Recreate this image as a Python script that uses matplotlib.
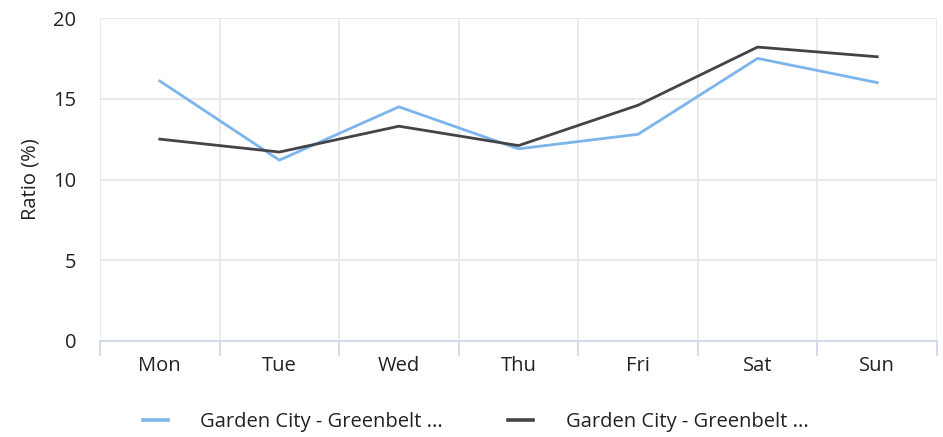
import matplotlib
matplotlib.use("Agg")
import matplotlib.pyplot as plt
from matplotlib.lines import Line2D

categories = ["Mon", "Tue", "Wed", "Thu", "Fri", "Sat", "Sun"]
series_a = [16.1, 11.2, 14.5, 11.9, 12.8, 17.5, 16.0]
series_b = [12.5, 11.7, 13.3, 12.1, 14.6, 18.2, 17.6]
series_names = ["Garden City - Greenbelt ...", "Garden City - Greenbelt ..."]
y_ticks = [0, 5, 10, 15, 20]
colors = ["#7cb5ec", "#434348"]

plt.rcParams['font.family'] = ['Open Sans', 'DejaVu Sans']
FS = 14.5

fig = plt.figure(figsize=(9.43, 4.37), dpi=100)
ax = fig.add_axes([100/943, (437-341)/437, (937-100)/943, (341-18)/437])

x = list(range(len(categories)))
ax.plot(x, series_a, color=colors[0], lw=2.0, solid_joinstyle='round', zorder=3)
ax.plot(x, series_b, color=colors[1], lw=2.0, solid_joinstyle='round', zorder=3)

ax.set_xlim(-0.5, len(categories) - 0.5)
ax.set_ylim(0, 20)

ax.set_yticks(y_ticks)
ax.set_yticklabels([str(t) for t in y_ticks], fontsize=FS, color="#222222")
ax.tick_params(axis='y', length=0, pad=17)

bounds = [i - 0.5 for i in range(len(categories) + 1)]
ax.set_xticks(bounds)
ax.set_xticklabels([""] * len(bounds))
ax.tick_params(axis='x', which='major', length=11, width=1.2, color="#ccd6eb", direction='out')
ax.set_xticks(x, minor=True)
ax.set_xticklabels(categories, minor=True, fontsize=FS, color="#222222")
ax.tick_params(axis='x', which='minor', length=0, pad=11)

ax.grid(True, axis='y', color="#e6e6e6", lw=1.2)
for b in bounds:
    ax.axvline(b, color="#e6e6e6", lw=1.2, zorder=0)
ax.set_axisbelow(True)

for s in ['top', 'right', 'left']:
    ax.spines[s].set_visible(False)
ax.spines['bottom'].set_color("#ccd6eb")
ax.spines['bottom'].set_linewidth(1.2)

ax.set_ylabel("Ratio (%)", fontsize=FS, color="#222222", labelpad=9)

handles = [Line2D([0], [0], color=c, lw=2.6) for c in colors]
fig.legend(handles, series_names, loc='center left', bbox_to_anchor=(143/943, (437-422)/437),
           ncol=2, frameon=False, fontsize=FS, handlelength=1.24, handletextpad=1.6,
           columnspacing=3.25, borderpad=0, borderaxespad=0, labelcolor="#222222")

fig.savefig("out.png", dpi=100)
